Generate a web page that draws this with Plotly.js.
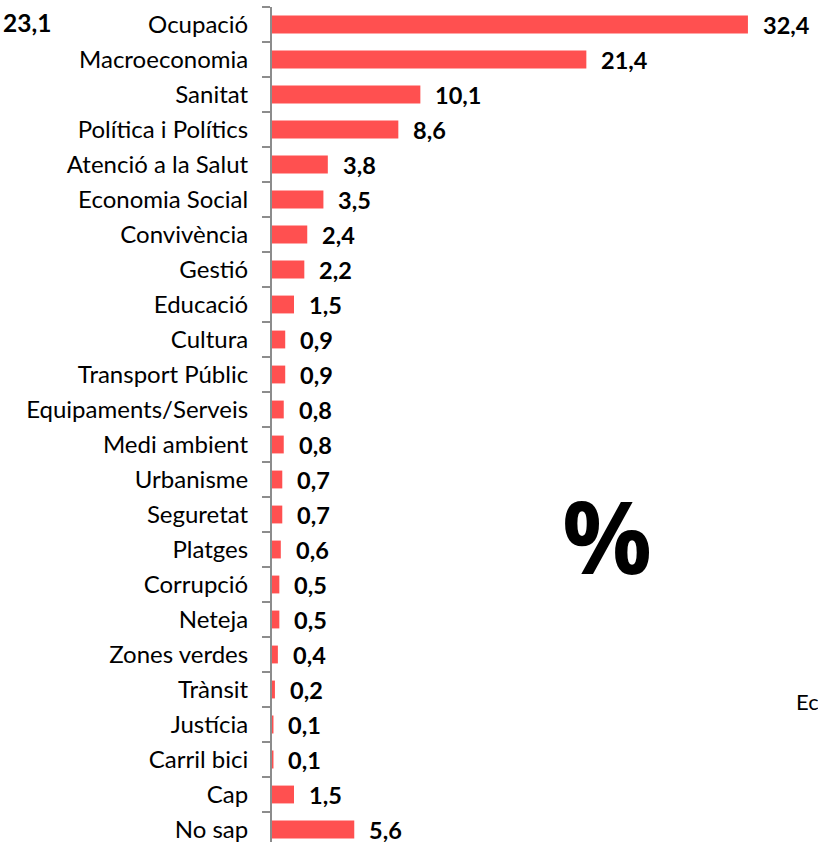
<!DOCTYPE html>
<html>
<head>
<meta charset="utf-8">
<script src="https://cdn.plot.ly/plotly-3.0.1.min.js"></script>
<style>html,body{margin:0;padding:0;background:#fff;}#chart{width:818px;height:842px;}</style>
</head>
<body>
<div id="chart"></div>
<script>
const categories = ["Ocupació","Macroeconomia","Sanitat","Política i Polítics","Atenció a la Salut","Economia Social","Convivència","Gestió","Educació","Cultura","Transport Públic","Equipaments/Serveis","Medi ambient","Urbanisme","Seguretat","Platges","Corrupció","Neteja","Zones verdes","Trànsit","Justícia","Carril bici","Cap","No sap"];
const values = [32.4,21.4,10.1,8.6,3.8,3.5,2.4,2.2,1.5,0.9,0.9,0.8,0.8,0.7,0.7,0.6,0.5,0.5,0.4,0.2,0.1,0.1,1.5,5.6];
const strayNumber = "23,1";
const unitLabel = "%";
const clippedText = "Ec";

const fmt = v => v.toFixed(1).replace('.', ',');
const FONT = 'Lato, "Open Sans", sans-serif';

const trace = {
  type: 'bar', orientation: 'h',
  x: values, y: categories,
  marker: {color: 'rgb(255,80,80)'},
  width: 0.51,
  hoverinfo: 'none'
};

const annotations = values.map((v, i) => ({
  x: v, y: categories[i], xref: 'x', yref: 'y',
  text: '<b>' + fmt(v) + '</b>', showarrow: false,
  xanchor: 'left', yanchor: 'middle', xshift: 13, yshift: 0,
  font: {family: FONT, size: 23.5, color: '#000'}
}));
annotations.push({
  xref: 'paper', yref: 'paper', x: -272/546, y: 1 + (7 - 23) / 835,
  text: '<b>' + strayNumber + '</b>', showarrow: false, xanchor: 'left', yanchor: 'middle',
  xshift: 1, font: {family: FONT, size: 24.5, color: '#000'}
});
annotations.push({
  xref: 'paper', yref: 'paper', x: (607 - 272) / 546, y: 1 - (535 - 7) / 835,
  text: '<b>' + unitLabel + '</b>', showarrow: false, xanchor: 'center', yanchor: 'middle',
  font: {family: '"Open Sans", sans-serif', size: 100, color: '#000'}
});
annotations.push({
  xref: 'paper', yref: 'paper', x: (794 - 272) / 546, y: 1 - (701 - 7) / 835,
  text: clippedText, showarrow: false, xanchor: 'left', yanchor: 'middle',
  font: {family: FONT, size: 22, color: '#000'}
});

const layout = {
  width: 818, height: 842,
  margin: {l: 272, r: 0, t: 7, b: 0, pad: 0},
  paper_bgcolor: '#fff', plot_bgcolor: '#fff',
  showlegend: false,
  xaxis: {range: [0, 37.17], visible: false, fixedrange: true},
  yaxis: {
    type: 'category', categoryorder: 'array', categoryarray: categories,
    range: [23.357, -0.5], autorange: false,
    showline: true, linecolor: '#8c8c8c', linewidth: 2,
    ticks: 'outside', tickson: 'boundaries', ticklen: 8, tickcolor: '#8c8c8c', tickwidth: 2,
    ticklabelstandoff: 17,
    showgrid: false, zeroline: false,
    tickfont: {family: FONT, size: 24, color: '#000'}
  },
  annotations: annotations
};

Plotly.newPlot('chart', [trace], layout, {staticPlot: true, displayModeBar: false});
</script>
</body>
</html>
